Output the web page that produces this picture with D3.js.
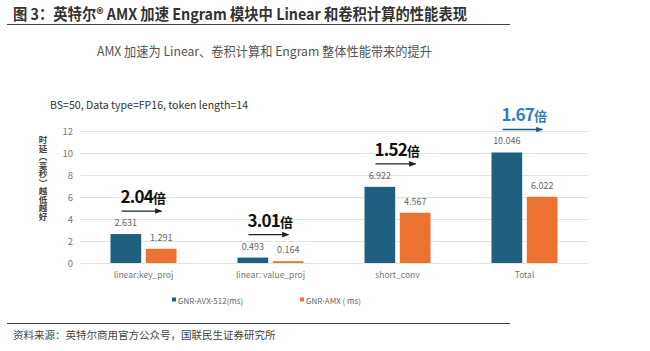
<!DOCTYPE html>
<html>
<meta charset="utf-8">
<style>
    body { margin: 0; background: #fff; }
    * { font-family: 'Noto Sans CJK SC', 'Noto Sans', sans-serif; }
</style>

<body>
    <svg id="chart" width="650" height="351"></svg>
    <script src="https://d3js.org/d3.v7.min.js"></script>
    <script>
        const categories = ["linear:key_proj", "linear: value_proj", "short_conv", "Total"];
        const avx512 = [2.631, 0.493, 6.922, 10.046];
        const amx = [1.291, 0.164, 4.567, 6.022];
        const valueLabels = [["2.631", "1.291"], ["0.493", "0.164"], ["6.922", "4.567"], ["10.046", "6.022"]];
        const speedups = ["2.04", "3.01", "1.52", "1.67"];
        const seriesNames = ["GNR-AVX-512(ms)", "GNR-AMX ( ms)"];
        const yTicks = [0, 2, 4, 6, 8, 10, 12];

        const blue = "#1f5f80", orange = "#ec7232";
        const chart = d3.select("#chart");

        // header
        chart.append("text").attr("x", 13).attr("y", 20)
            .attr("font-size", 15.5).attr("font-weight", "bold").attr("fill", "#333")
            .attr("textLength", 454).attr("lengthAdjust", "spacingAndGlyphs")
            .text("图 3：英特尔® AMX 加速 Engram 模块中 Linear 和卷积计算的性能表现");
        chart.append("line").attr("x1", 7).attr("x2", 510).attr("y1", 24.5).attr("y2", 24.5)
            .attr("stroke", "#444").attr("stroke-width", 1);

        chart.append("text").attr("x", 97).attr("y", 56)
            .attr("font-size", 13).attr("fill", "#555")
            .attr("textLength", 335).attr("lengthAdjust", "spacingAndGlyphs")
            .text("AMX 加速为 Linear、卷积计算和 Engram 整体性能带来的提升");

        chart.append("text").attr("x", 50).attr("y", 109)
            .attr("font-size", 11).attr("fill", "#333")
            .attr("textLength", 198).attr("lengthAdjust", "spacingAndGlyphs")
            .text("BS=50, Data type=FP16, token length=14");

        const x0 = d3.scaleBand().domain(categories).range([80, 588]);
        const x1 = d3.scaleBand().domain([0, 1]).range([-33, 33]).paddingInner(0.13);
        const y = d3.scaleLinear().domain([0, 12]).range([263, 131]);

        // grid + y labels
        const yAxis = chart.append("g").attr("transform", "translate(80,0)")
            .call(d3.axisLeft(y).tickValues(yTicks).tickSize(-508).tickPadding(7));
        yAxis.select(".domain").remove();
        yAxis.selectAll(".tick line").attr("stroke", "#e3e3e3");
        yAxis.selectAll(".tick text").attr("fill", "#777").attr("font-size", 9.5)
            .attr("font-family", "'Noto Sans', sans-serif");

        // x labels
        const xAxis = chart.append("g").attr("transform", "translate(0,263)")
            .call(d3.axisBottom(x0).tickSize(0).tickPadding(9));
        xAxis.select(".domain").remove();
        xAxis.selectAll(".tick text").attr("fill", "#777").attr("font-size", 8.5)
            .attr("font-family", "'Noto Sans', sans-serif");

        // y title, vertical
        chart.append("text")
            .attr("x", 43).attr("y", 136)
            .style("writing-mode", "vertical-rl")
            .attr("font-size", 8.5).attr("font-weight", "bold").attr("fill", "#444")
            .text("时延（毫秒）越低越好");

        // bars
        const rows = categories.map((c, i) => ({ cat: c, vals: [avx512[i], amx[i]], labels: valueLabels[i], sp: speedups[i], idx: i }));
        const groups = chart.append("g").selectAll("g").data(rows).enter().append("g")
            .attr("transform", d => "translate(" + (x0(d.cat) + x0.bandwidth() / 2) + ",0)");

        groups.selectAll("rect").data(d => d.vals).enter().append("rect")
            .attr("x", (d, i) => x1(i))
            .attr("width", x1.bandwidth())
            .attr("y", d => y(d))
            .attr("height", d => y(0) - y(d))
            .attr("fill", (d, i) => i == 0 ? blue : orange);

        groups.selectAll(".vl").data(d => d.vals.map((v, i) => ({ v: v, t: d.labels[i] }))).enter().append("text")
            .attr("class", "vl")
            .attr("x", (d, i) => x1(i) + x1.bandwidth() / 2)
            .attr("y", d => y(d.v) - 8)
            .attr("text-anchor", "middle").attr("font-size", 9).attr("fill", "#666")
            .attr("font-family", "'Noto Sans', sans-serif")
            .text(d => d.t);

        // speedup annotations
        const defs = chart.append("defs");
        [["ah-dark", "#222"], ["ah-blue", blue]].forEach(m => {
            defs.append("marker").attr("id", m[0]).attr("viewBox", "0 0 10 10")
                .attr("refX", 9).attr("refY", 5).attr("markerWidth", 7).attr("markerHeight", 7)
                .attr("orient", "auto").attr("markerUnits", "userSpaceOnUse")
                .append("path").attr("d", "M0,1 L10,5 L0,9 Z").attr("fill", m[1]);
        });

        groups.each(function (d) {
            const g = d3.select(this);
            const last = d.idx == categories.length - 1;
            const ay = y(d.vals[0]) - 23;
            const ax = x1(0) + 11;
            g.append("line").attr("x1", ax).attr("x2", ax + 40).attr("y1", ay).attr("y2", ay)
                .attr("stroke", last ? blue : "#222").attr("stroke-width", 1.3)
                .attr("marker-end", last ? "url(#ah-blue)" : "url(#ah-dark)");
            const t = g.append("text").attr("x", ax - 1).attr("y", ay - 8)
                .attr("fill", last ? "#2e7fc1" : "#111").attr("font-weight", "bold");
            t.append("tspan").attr("font-size", 17).attr("letter-spacing", -0.8)
                .attr("font-family", "'Noto Sans', sans-serif").text(d.sp);
            t.append("tspan").attr("font-size", 13).text("倍");
        });

        // legend
        const legend = chart.append("g").selectAll("g").data(seriesNames).enter().append("g")
            .attr("transform", (d, i) => "translate(" + (i == 0 ? 172 : 300) + ",300)");
        legend.append("rect").attr("x", 0).attr("y", -2.5).attr("width", 4).attr("height", 4)
            .attr("fill", (d, i) => i == 0 ? blue : orange);
        legend.append("text").attr("x", 6).attr("y", 0)
            .attr("font-size", 8).attr("fill", "#666")
            .attr("font-family", "'Noto Sans', sans-serif").attr("dominant-baseline", "central")
            .text(d => d);

        // footer
        chart.append("line").attr("x1", 7).attr("x2", 510).attr("y1", 323.5).attr("y2", 323.5)
            .attr("stroke", "#444").attr("stroke-width", 1);
        chart.append("text").attr("x", 13).attr("y", 339)
            .attr("font-size", 10.5).attr("fill", "#444")
            .text("资料来源：英特尔商用官方公众号，国联民生证券研究所");
    </script>
</body>

</html>
